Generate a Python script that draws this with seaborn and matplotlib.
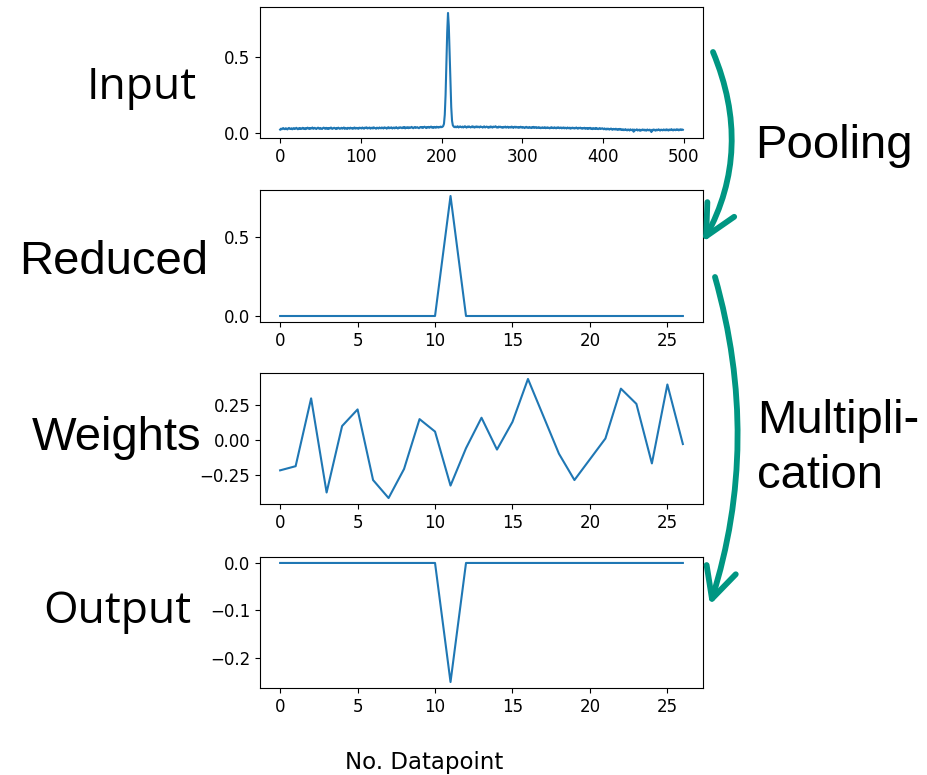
import numpy as np
import matplotlib
matplotlib.use("Agg")
import matplotlib.pyplot as plt
from matplotlib.patches import FancyArrowPatch
import seaborn as sns

# Raw input spectrum, 500 samples, in thousandths
input_milli = [
    22, 28, 24, 30, 32, 26, 25, 31, 28, 23, 30, 33, 27, 26, 31, 24, 29, 32, 26, 28, 34, 29, 24, 31, 27,
    32, 26, 29, 34, 27, 31, 25, 32, 28, 35, 30, 26, 33, 28, 31, 36, 27, 30, 34, 28, 26, 32, 35, 29, 27,
    33, 28, 26, 32, 35, 30, 27, 34, 28, 31, 26, 33, 30, 36, 28, 27, 32, 34, 30, 26, 33, 28, 35, 31, 27,
    30, 34, 28, 31, 36, 27, 33, 30, 26, 34, 31, 28, 35, 30, 33, 27, 31, 36, 28, 34, 30, 33, 27, 35, 31,
    34, 29, 36, 31, 28, 35, 32, 37, 29, 34, 31, 36, 28, 32, 35, 29, 37, 33, 30, 28, 35, 32, 29, 36, 33,
    30, 36, 33, 29, 37, 32, 35, 28, 33, 38, 30, 35, 32, 37, 29, 33, 36, 30, 35, 38, 32, 29, 36, 33, 37,
    35, 31, 37, 33, 39, 30, 36, 34, 38, 31, 37, 33, 36, 40, 34, 31, 37, 39, 33, 36, 38, 34, 31, 37, 39,
    35, 39, 33, 38, 41, 36, 32, 39, 36, 40, 34, 38, 42, 35, 39, 33, 40, 37, 34, 41, 38, 35, 40, 37, 42,
    38, 40, 45, 60, 120, 250, 450, 660, 788, 700, 520, 330, 170, 80, 50, 42, 38, 42, 37, 41, 44, 36, 39, 43, 40,
    37, 42, 36, 41, 44, 39, 35, 42, 38, 43, 40, 36, 39, 44, 37, 42, 35, 40, 43, 37, 42, 39, 36, 43, 40,
    40, 35, 41, 43, 36, 39, 42, 38, 34, 41, 36, 43, 39, 35, 42, 38, 41, 44, 36, 39, 35, 42, 38, 41, 36,
    39, 34, 40, 37, 42, 35, 38, 41, 34, 37, 40, 35, 42, 37, 33, 39, 41, 35, 40, 37, 34, 39, 35, 41, 37,
    34, 39, 36, 32, 38, 40, 34, 36, 33, 39, 36, 32, 38, 35, 40, 33, 36, 39, 32, 35, 38, 33, 36, 31, 35,
    37, 32, 35, 38, 31, 34, 37, 32, 35, 30, 34, 38, 32, 35, 31, 37, 34, 30, 36, 33, 37, 31, 34, 36, 30,
    34, 36, 30, 35, 32, 29, 36, 33, 30, 35, 28, 32, 35, 30, 34, 29, 32, 36, 30, 28, 34, 31, 35, 29, 32,
    28, 32, 34, 27, 30, 33, 26, 32, 29, 34, 27, 30, 25, 32, 29, 26, 33, 27, 30, 25, 29, 32, 26, 28, 31,
    28, 24, 30, 25, 23, 29, 24, 28, 22, 26, 29, 23, 21, 27, 25, 22, 28, 23, 20, 26, 22, 27, 21, 24, 19,
    24, 18, 22, 25, 19, 17, 23, 21, 16, 24, 20, 18, 23, 8, 22, 17, 20, 24, 16, 19, 22, 14, 21, 17, 23,
    18, 22, 16, 21, 15, 23, 19, 17, 22, 16, 6, 21, 17, 23, 19, 15, 22, 17, 21, 24, 18, 16, 22, 20, 17,
    23, 18, 22, 17, 24, 20, 16, 23, 18, 22, 25, 19, 17, 23, 21, 18, 24, 20, 23, 17, 22, 24, 19, 23, 21,
]

# Pooled representation (27 bins)
reduced = [0.0, 0.0, 0.0, 0.0, 0.0, 0.0, 0.0, 0.0, 0.0, 0.0, 0.0, 0.76, 0.0,
           0.0, 0.0, 0.0, 0.0, 0.0, 0.0, 0.0, 0.0, 0.0, 0.0, 0.0, 0.0, 0.0, 0.0]

# Learned weights, one per bin
weights = [-0.22, -0.19, 0.30, -0.38, 0.10, 0.22, -0.29, -0.42, -0.21, 0.15,
           0.06, -0.33, -0.06, 0.16, -0.07, 0.13, 0.44, 0.17, -0.10, -0.29,
           -0.14, 0.01, 0.37, 0.26, -0.17, 0.40, -0.03]

panel_names = ["Input", "Reduced", "Weights", "Output"]
step_names = ["Pooling", "Multipli-", "cation"]
xlabel_text = "No. Datapoint"

input_signal = np.array(input_milli) / 1000.0
reduced_arr = np.array(reduced)
weights_arr = np.array(weights)
output_arr = reduced_arr * weights_arr

W, H = 928, 775
fig = plt.figure(figsize=(W / 100, H / 100), dpi=100)

LINE = "#1f77b4"
TEAL = "#009682"
TICK_FS = 12


def px_axes(top, bottom, left=260, right=703):
    return fig.add_axes([left / W, 1 - bottom / H, (right - left) / W, (bottom - top) / H])


ax1 = px_axes(7, 138)
ax2 = px_axes(190, 322)
ax3 = px_axes(373, 504)
ax4 = px_axes(557, 688)

series = [
    (ax1, np.arange(len(input_signal)), input_signal),
    (ax2, np.arange(len(reduced_arr)), reduced_arr),
    (ax3, np.arange(len(weights_arr)), weights_arr),
    (ax4, np.arange(len(output_arr)), output_arr),
]
for ax, x, y in series:
    sns.lineplot(x=x, y=y, ax=ax, color=LINE, linewidth=1.5, estimator=None)
    ax.tick_params(labelsize=TICK_FS)
    ax.set_xlabel("")

ax1.set_xticks([0, 100, 200, 300, 400, 500])
for ax in (ax2, ax3, ax4):
    ax.set_xticks([0, 5, 10, 15, 20, 25])
ax1.set_yticks([0.0, 0.5])
ax2.set_yticks([0.0, 0.5])
ax3.set_yticks([-0.25, 0.0, 0.25])
ax4.set_yticks([-0.2, -0.1, 0.0])

# Row titles to the left of each panel
label_specs = [
    (ax1, panel_names[0], ["Open Sans"], 32, (-0.142, 0.298)),
    (ax2, panel_names[1], ["Liberation Sans"], 34, (-0.118, 0.364)),
    (ax3, panel_names[2], ["Liberation Sans"], 34, (-0.133, 0.412)),
    (ax4, panel_names[3], ["Open Sans"], 32, (-0.156, 0.496)),
]
for ax, txt, fam, fs, (lx, ly) in label_specs:
    ax.set_ylabel(txt, rotation=0, ha="right", va="baseline", fontsize=fs, family=fam)
    ax.yaxis.set_label_coords(lx, ly)

# Step descriptions on the right
fig.text(755 / W, 1 - 158 / H, step_names[0], ha="left", va="baseline",
         fontsize=34, family="Liberation Sans")
fig.text(757 / W, 1 - 433 / H, step_names[1], ha="left", va="baseline",
         fontsize=34, family="Liberation Sans")
fig.text(757 / W, 1 - 488 / H, step_names[2], ha="left", va="baseline",
         fontsize=34, family="Liberation Sans")

# Common x label
fig.text(424 / W, 1 - 769 / H, xlabel_text, ha="center", va="baseline", fontsize=16.5)


# Curved arrows between the stages
def arrow(p0, p1, rad):
    a = FancyArrowPatch((p0[0] / W, 1 - p0[1] / H), (p1[0] / W, 1 - p1[1] / H),
                        transform=fig.transFigure,
                        connectionstyle=f"arc3,rad={rad}",
                        arrowstyle="->,head_length=1.1,head_width=0.55",
                        mutation_scale=20, color=TEAL, linewidth=4.2,
                        shrinkA=0, shrinkB=0)
    fig.patches.append(a)


arrow((713, 52), (703, 242), -0.24)
arrow((715, 277), (710, 605), -0.15)

fig.savefig("out.png", dpi=100)
